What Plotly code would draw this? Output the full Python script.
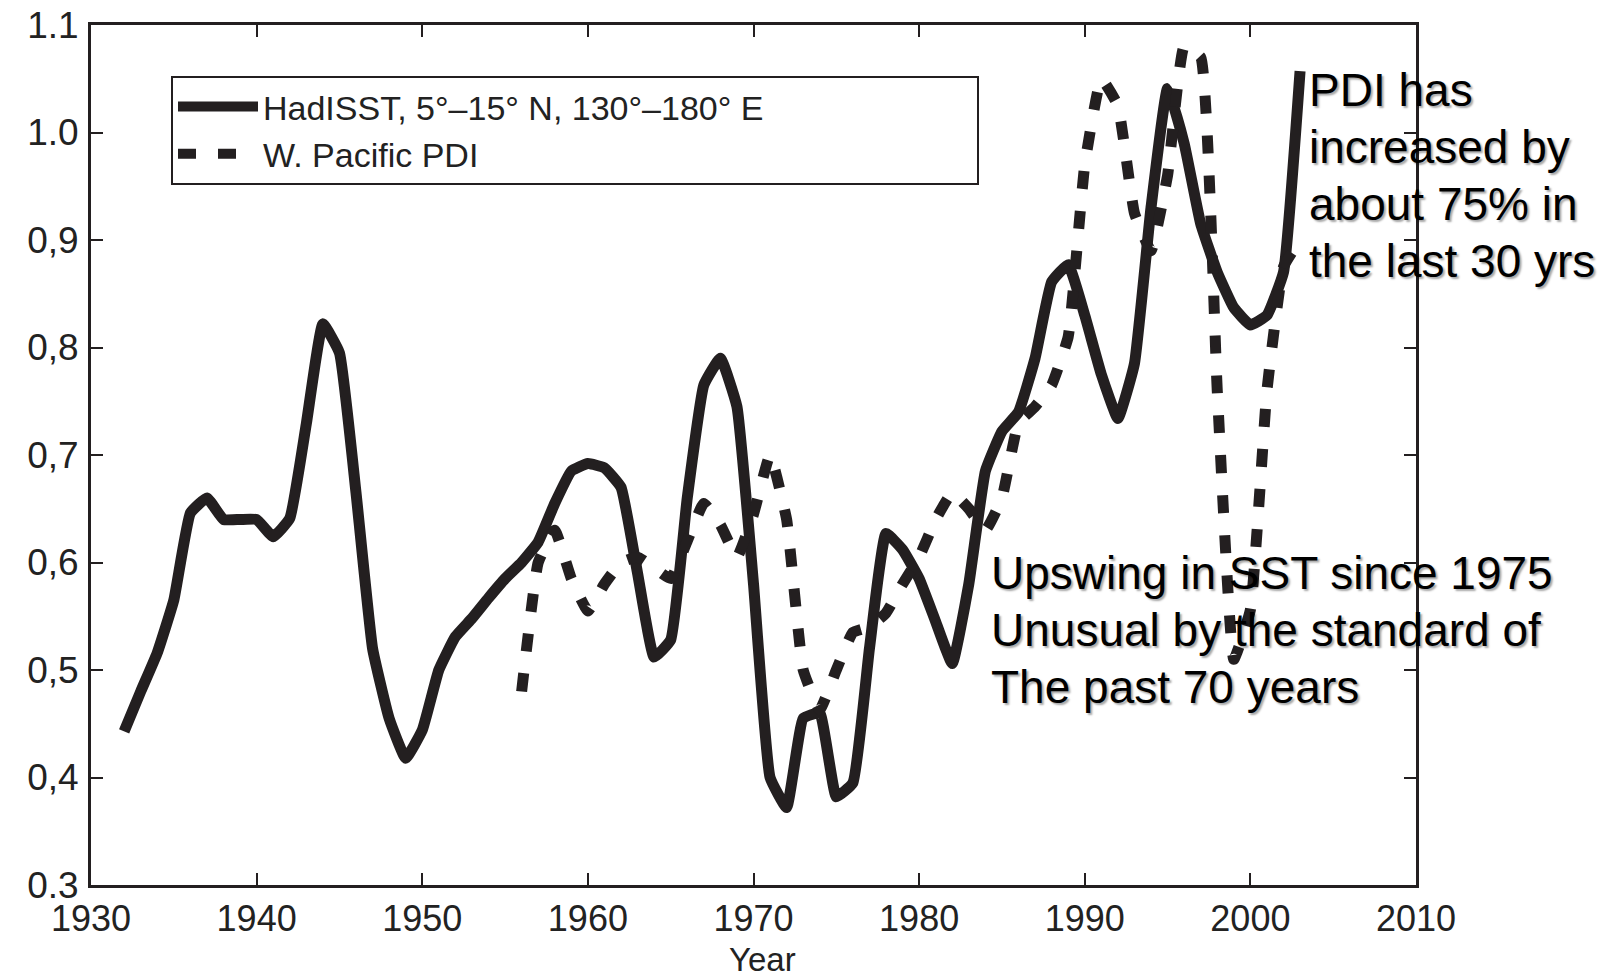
import plotly.graph_objects as go

# ---------------- data ----------------
sst_years = list(range(1932, 2004))
sst_values = [
    0.443, 0.48, 0.516, 0.565, 0.646, 0.66, 0.64, 0.64, 0.64, 0.624,   # 1932-1941
    0.641, 0.729, 0.822, 0.795, 0.665, 0.52, 0.455, 0.418, 0.444, 0.50,  # 1942-1951
    0.531, 0.548, 0.567, 0.585, 0.60, 0.619, 0.655, 0.685, 0.692, 0.688, # 1952-1961
    0.67, 0.59, 0.512, 0.528, 0.66, 0.765, 0.79, 0.745, 0.58, 0.40,      # 1962-1971
    0.372, 0.455, 0.46, 0.382, 0.395, 0.52, 0.627, 0.612, 0.585, 0.545, # 1972-1981
    0.506, 0.58, 0.685, 0.722, 0.74, 0.79, 0.861, 0.877, 0.83, 0.775,   # 1982-1991
    0.734, 0.785, 0.93, 1.041, 0.99, 0.915, 0.87, 0.837, 0.821, 0.83,   # 1992-2001
    0.87, 1.057,                                                       # 2002-2003
]

pdi_years = list(range(1956, 2004))
pdi_values = [
    0.48, 0.60, 0.63, 0.585, 0.555, 0.58, 0.60, 0.605, 0.595, 0.585,    # 1956-1965
    0.62, 0.655, 0.635, 0.605, 0.645, 0.70, 0.64, 0.50, 0.463, 0.50,   # 1966-1975
    0.535, 0.54, 0.553, 0.58, 0.605, 0.64, 0.665, 0.65, 0.63, 0.66,    # 1976-1985
    0.73, 0.745, 0.765, 0.81, 0.97, 1.05, 1.025, 0.925, 0.89, 0.96,    # 1986-1995
    1.08, 1.07, 0.76, 0.51, 0.556, 0.76, 0.875, 0.90,                   # 1996-2003
]

x_ticks = [1930, 1940, 1950, 1960, 1970, 1980, 1990, 2000, 2010]
y_tick_vals = [0.3, 0.4, 0.5, 0.6, 0.7, 0.8, 0.9, 1.0, 1.1]
y_tick_text = ["0.3", "0,4", "0,5", "0,6", "0,7", "0,8", "0,9", "1.0", "1.1"]

sst_name = "HadISST, 5°–15° N, 130°–180° E"
pdi_name = "W. Pacific PDI"
x_title = "Year"

note1_lines = ["PDI has", "increased by", "about 75% in", "the last 30 yrs"]
note2_lines = ["Upswing in SST since 1975", "Unusual by the standard of", "The past 70 years"]

# ---------------- figure ----------------
INK = "#231f20"
FONT = "Liberation Sans, Arial, Helvetica, sans-serif"
PAD = "\u00a0" * 22   # widens the legend box like the reference

fig = go.Figure()
fig.add_trace(go.Scatter(
    x=sst_years, y=sst_values, mode="lines", name=sst_name + PAD,
    line=dict(color=INK, width=11, shape="spline", smoothing=0.35),
))
fig.add_trace(go.Scatter(
    x=pdi_years, y=pdi_values, mode="lines", name=pdi_name,
    line=dict(color=INK, width=11, dash="18px,22px", shape="spline", smoothing=0.35),
))

W, H = 1623, 980
L, R, T, B = 91, 207, 25, 95
pw, ph = W - L - R, H - T - B

def px(xp):
    return (xp - L) / pw

def py(yp):
    return 1 - (yp - T) / ph

shadow = "2px 2px 2px rgba(0,0,0,0.35)"
annotations = []
for i, line in enumerate(note1_lines):
    annotations.append(dict(
        xref="paper", yref="paper", x=px(1307), y=py(90 + 57 * i),
        xanchor="left", yanchor="middle", showarrow=False, text=line,
        font=dict(family=FONT, size=46, color="black", shadow=shadow),
    ))
for i, line in enumerate(note2_lines):
    annotations.append(dict(
        xref="paper", yref="paper", x=px(989), y=py(573 + 57 * i),
        xanchor="left", yanchor="middle", showarrow=False, text=line,
        font=dict(family=FONT, size=46, color="black", shadow=shadow),
    ))
# x-axis title placed like the reference, near the bottom edge
annotations.append(dict(
    xref="paper", yref="paper", x=px(763), y=py(960),
    xanchor="center", yanchor="middle", showarrow=False, text=x_title,
    font=dict(family=FONT, size=33, color="#222"), borderpad=0,
))

axis_common = dict(
    showline=True, linewidth=3, linecolor=INK, mirror="ticks",
    ticks="inside", ticklen=12, tickwidth=2, tickcolor=INK,
    showgrid=False, zeroline=False, automargin=False,
)

fig.update_layout(
    width=W, height=H,
    margin=dict(l=L, r=R, t=T, b=B, pad=0, autoexpand=False),
    paper_bgcolor="white", plot_bgcolor="white",
    showlegend=True,
    legend=dict(
        x=px(171), y=py(76), xanchor="left", yanchor="top",
        bordercolor=INK, borderwidth=2, bgcolor="white",
        font=dict(family=FONT, size=34, color="#222"),
        itemwidth=80, tracegroupgap=0,
    ),
    xaxis=dict(
        range=[1930, 2010], tickvals=x_ticks, ticklabelstandoff=0,
        tickfont=dict(family=FONT, size=36, color="#222"),
        **axis_common,
    ),
    yaxis=dict(
        range=[0.3, 1.1], tickvals=y_tick_vals, ticktext=y_tick_text,
        ticklabelstandoff=2,
        tickfont=dict(family=FONT, size=37, color="#222"),
        **axis_common,
    ),
    annotations=annotations,
)

fig.write_html("out.html")
